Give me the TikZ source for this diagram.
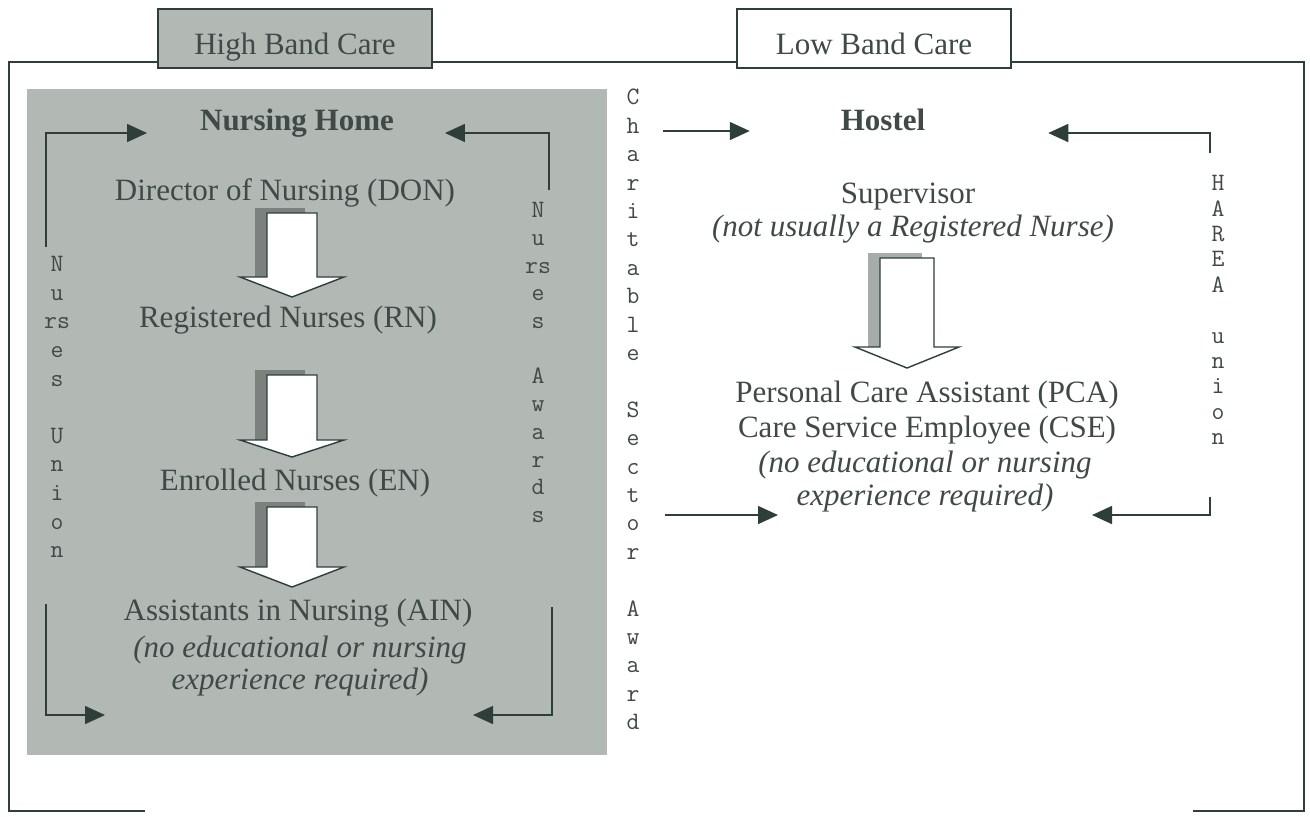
\documentclass[tikz,border=0pt]{standalone}
\usepackage{fontspec}
\setmainfont{Liberation Serif}
\usetikzlibrary{arrows.meta, positioning, calc}
\definecolor{inkgreen}{HTML}{2E3F3A}
\definecolor{panelgray}{HTML}{B2B8B4}
\definecolor{darktext}{HTML}{3F4946}
\definecolor{shadegray}{HTML}{7B827E}
\definecolor{paleshade}{HTML}{A6ACA8}
\newcommand{\downarr}[6]{%
  \fill[#6] (#1-#5-12,#2-5) rectangle (#1+#5-12,#3);
  \draw[inkgreen, line width=0.7pt, fill=white] (#1-#5,#2) -- (#1+#5,#2) -- (#1+#5,#3)
    -- (#1+52,#3) -- (#1,#4) -- (#1-52,#3) -- (#1-#5,#3) -- cycle;}
\newcommand{\tablabel}[1]{\raisebox{-8pt}[0pt][0pt]{#1}}

\begin{document}
\begin{tikzpicture}[x=0.5pt, y=-0.5pt,
  every node/.style={text=darktext},
  rolebox/.style={font=\fontsize{15.5}{18}\selectfont},
  notebox/.style={font=\fontsize{15.5}{16.3}\selectfont\itshape, align=center},
  placebox/.style={font=\fontsize{15.5}{18}\selectfont\bfseries},
  tabbox/.style={draw=inkgreen, line width=1.4pt, minimum width=137pt,
    minimum height=29.5pt, font=\fontsize{15.5}{18}\selectfont},
  vword/.style={font=\ttfamily\fontsize{12.5}{#1}\selectfont, align=center, inner sep=0pt},
  link/.style={draw=inkgreen, line width=0.8pt, -{Triangle[length=10pt,width=9pt]}}]
  \useasboundingbox (0,0) rectangle (1310,816);
  \fill[panelgray] (27,89) rectangle (607,755);
  \draw[inkgreen, line width=1.4pt] (145,811) -| (9,62) -- (1304,62) |- (1193,811);
  \node (hightab) [tabbox, fill=panelgray] at (295,38.5) {\tablabel{High Band Care}};
  \node (lowtab)  [tabbox, fill=white] at (874,38.5) {\tablabel{Low Band Care}};

  \node (nhome)   [placebox] at (297,123) {Nursing Home};
  \node (don)     [rolebox] at (285,193) {Director of Nursing (DON)};
  \node (rn)      [rolebox] at (288,320) {Registered Nurses (RN)};
  \node (en)      [rolebox] at (295,483) {Enrolled Nurses (EN)};
  \node (ain)     [rolebox] at (298,613) {Assistants in Nursing (AIN)};
  \node (ainnote) [notebox] at (300,666) {(no educational or nursing\\experience required)};
  \downarr{292}{213}{277}{297}{25}{shadegray}
  \downarr{292}{375}{440}{457}{25}{shadegray}
  \downarr{292}{507}{567}{587}{25}{shadegray}

  \node (hostel)  [placebox] at (883,120) {Hostel};
  \node (super)   [rolebox] at (908,197) {Supervisor};
  \node (supnote) [notebox] at (913,229) {(not usually a Registered Nurse)};
  \node (pca)     [rolebox] at (927,395) {Personal Care Assistant (PCA)};
  \node (cse)     [rolebox] at (927,430) {Care Service Employee (CSE)};
  \node (pcanote) [notebox] at (925,481.5) {(no educational or nursing\\experience required)};
  \downarr{907}{258}{347}{368}{27}{paleshade}

  \node (nunion)  [vword=14.3]  at (57,407)    {N\\u\\rs\\e\\s\\\strut\\U\\n\\i\\o\\n};
  \node (nawards) [vword=13.85] at (538,362.5) {N\\u\\rs\\e\\s\\\strut\\A\\w\\a\\r\\d\\s};
  \node (charity) [vword=14.2]  at (633,409.5) {C\\h\\a\\r\\i\\t\\a\\b\\l\\e\\\strut\\S\\e\\c\\t\\o\\r\\\strut\\A\\w\\a\\r\\d};
  \node (harea)   [vword=12.7]  at (1218,310)  {H\\A\\R\\E\\A\\\strut\\u\\n\\i\\o\\n};

  \coordinate (nuTop) at (46,247);
  \coordinate (nuBot) at (46,604);
  \coordinate (naTop) at (549,190);
  \coordinate (naBot) at (552,607);
  \coordinate (csTop) at (663,131);
  \coordinate (csBot) at (665,515);
  \coordinate (haTop) at (1210,153);
  \coordinate (haBot) at (1210,497);
  \coordinate (pcaL)  at (778,515);
  \coordinate (pcaR)  at (1092,515);
  \coordinate (ainL)  at (105,715);
  \coordinate (ainR)  at (473,715);

  \draw[link] (nuTop) |- ([xshift=-23pt]nhome.west |- 0,133);
  \draw[link] (naTop) |- ([xshift=22pt]nhome.east |- 0,133);
  \draw[link] (nuBot) |- (ainL);
  \draw[link] (naBot) |- (ainR);
  \draw[link] (csTop) -- ([xshift=-42pt]hostel.west |- 0,131);
  \draw[link] (haTop) |- ([xshift=58pt]hostel.east |- 0,133);
  \draw[link] (csBot) -- (pcaL);
  \draw[link] (haBot) |- (pcaR);
\end{tikzpicture}
\end{document}
